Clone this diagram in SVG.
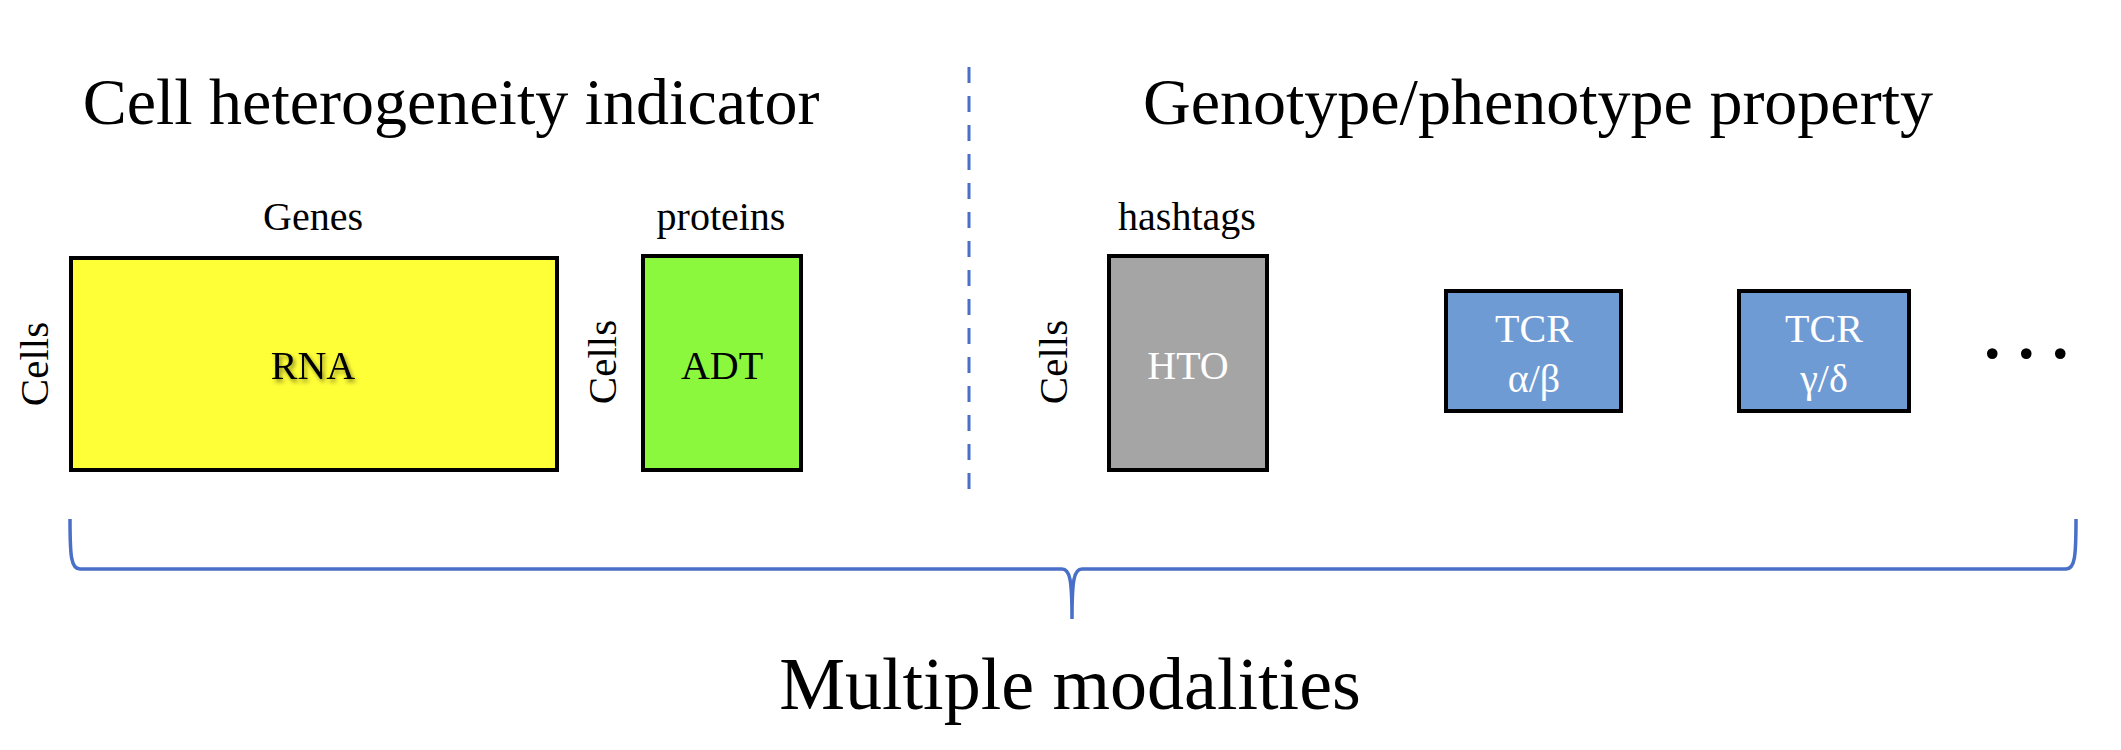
<svg xmlns="http://www.w3.org/2000/svg" width="2121" height="750" viewBox="0 0 2121 750">
<defs>
<style>
text{font-family:"Liberation Serif","Times New Roman",serif;fill:#000}
.title{font-size:66px;text-anchor:middle}
.lab{font-size:40px;text-anchor:middle}
.axis{font-size:41px;text-anchor:middle}
.inner{font-size:40px;text-anchor:middle}
.white{fill:#fff}
.box{stroke:#000;stroke-width:4}
.blue{stroke:#4A6FC8;fill:none}
</style>
<filter id="sh" x="-20%" y="-20%" width="140%" height="140%">
<feDropShadow dx="2" dy="3" stdDeviation="2" flood-color="#000" flood-opacity="0.45"/>
</filter>
</defs>
<rect width="2121" height="750" fill="#fff"/>
<text class="title" x="451" y="124">Cell heterogeneity indicator</text>
<text class="title" x="1538" y="124">Genotype/phenotype property</text>
<g id="connectors">
<line class="blue" x1="969" y1="67" x2="969" y2="492" stroke-width="3" stroke-dasharray="16 13"/>
<path id="brace" class="blue" stroke-width="3.5" d="M70,519 C70,556 71,569 80,569 L1062,569 C1070,569 1072,580 1072,619 C1072,580 1074,569 1082,569 L2066,569 C2075,569 2076,556 2076,519"/>
</g>
<g id="rna">
<text class="lab" x="313" y="230">Genes</text>
<text class="axis" transform="translate(48,364) rotate(-90)">Cells</text>
<rect class="box" x="71" y="258" width="486" height="212" fill="#FFFF38"/>
<text class="inner" x="313" y="379" filter="url(#sh)">RNA</text>
</g>
<g id="adt">
<text class="lab" x="721" y="230">proteins</text>
<text class="axis" transform="translate(616,362) rotate(-90)">Cells</text>
<rect class="box" x="643" y="256" width="158" height="214" fill="#8CF83D"/>
<text class="inner" x="722" y="379">ADT</text>
</g>
<g id="hto">
<text class="lab" x="1187" y="230">hashtags</text>
<text class="axis" transform="translate(1067,362) rotate(-90)">Cells</text>
<rect class="box" x="1109" y="256" width="158" height="214" fill="#A5A5A5"/>
<text class="inner white" x="1188" y="379">HTO</text>
</g>
<g id="tcr-ab">
<rect class="box" x="1446" y="291" width="175" height="120" fill="#6F9BD4"/>
<text class="inner white" x="1534" y="342">TCR</text>
<text class="inner white" x="1534" y="392">α/β</text>
</g>
<g id="tcr-gd">
<rect class="box" x="1739" y="291" width="170" height="120" fill="#6F9BD4"/>
<text class="inner white" x="1824" y="342">TCR</text>
<text class="inner white" x="1824" y="392">γ/δ</text>
</g>
<g id="more">
<text x="1981" y="358" style="font-size:90px" letter-spacing="11.5">...</text>
</g>
<text x="1070" y="709" style="font-size:74px;text-anchor:middle">Multiple modalities</text>
</svg>
